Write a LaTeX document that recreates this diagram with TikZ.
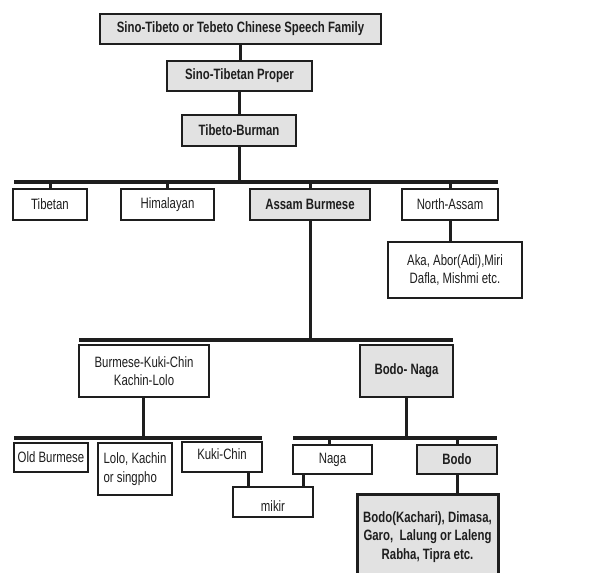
\documentclass[tikz,border=0pt]{standalone}
\usepackage{fontspec}
\setmainfont{Liberation Sans}[FakeStretch=0.76]
\definecolor{boxgrey}{RGB}{226,226,226}
\definecolor{inkgrey}{RGB}{30,30,30}
\begin{document}
\begin{tikzpicture}[x=1pt, y=-1pt,
    box/.style={draw=inkgrey, line width=1.3pt, fill=white, inner sep=1pt,
      minimum height=30pt, align=center, text=inkgrey,
      font=\fontsize{15}{18.5}\selectfont},
    greybox/.style={box, fill=boxgrey, font=\fontsize{15}{18.5}\selectfont\bfseries},
    bar/.style={draw=inkgrey, line width=4pt},
    link/.style={draw=inkgrey, line width=3pt}]
    \useasboundingbox (0,0) rectangle (604,572);

    % Define node positions
    \node[greybox, minimum width=281pt] (family) at (240.5, 29) {Sino-Tibeto or Tebeto Chinese Speech Family};
    \node[greybox, minimum width=145pt] (proper) at (239.5, 76) {Sino-Tibetan Proper};
    \node[greybox, minimum width=114pt, minimum height=31pt] (tibburman) at (239, 130.5) {Tibeto-Burman};

    \node[box, minimum width=74pt, minimum height=31pt] (tibetan) at (50, 204.5) {Tibetan};
    \node[box, minimum width=93pt, minimum height=31pt] (himalayan) at (167.5, 204.5) {Himalayan};
    \node[greybox, minimum width=120pt, minimum height=31pt] (assam) at (310, 204.5) {Assam Burmese};
    \node[box, minimum width=96pt, minimum height=31pt] (northassam) at (450, 204.5) {North-Assam};
    \node[box, minimum width=134pt, minimum height=56pt] (aka) at (455, 270) {Aka, Abor(Adi),Miri\\Dafla, Mishmi etc.};

    \node[box, minimum width=130pt, minimum height=52pt] (bkc) at (144, 371) {Burmese-Kuki-Chin\\Kachin-Lolo};
    \node[greybox, minimum width=93pt, minimum height=52pt] (bodonaga) at (406.5, 371) {Bodo- Naga};

    \node[box, minimum width=74pt, minimum height=29pt] (oldburmese) at (51, 457.5) {Old Burmese};
    \node[box, minimum width=74pt, minimum height=52pt, align=left] (lolo) at (135, 469) {Lolo, Kachin\\or singpho};
    \node[box, minimum width=80pt] (kukichin) at (222, 457) {\raisebox{-2pt}[0pt][0pt]{Kuki-Chin}};
    \node[box, minimum width=79pt, minimum height=29pt] (naga) at (332.5, 459.5) {Naga};
    \node[greybox, minimum width=80pt, minimum height=29pt] (bodo) at (457, 459.5) {Bodo};
    \node[box, minimum width=80pt] (mikir) at (273, 502) {\raisebox{-9pt}[0pt][0pt]{mikir}};
    \node[greybox, line width=3pt, minimum width=141pt, minimum height=86pt] (kachari) at (427.5, 537)
      {Bodo(Kachari), Dimasa,\\Garo,\ \ Lalung or Laleng\\Rabha, Tipra etc.};

    % Bars
    \coordinate (bartop) at (14, 182);
    \coordinate (barmid) at (79, 340);
    \coordinate (barleft) at (14, 438);
    \coordinate (barright) at (293, 438);
    \draw[bar] (bartop) -- (498, 182);
    \draw[bar] (barmid) -- (453, 340);
    \draw[bar] (barleft) -- (262, 438);
    \draw[bar] (barright) -- (497, 438);

    % Draw lines
    \draw[link] (family.south) -- (family.south |- proper.north);
    \draw[link] (proper.south) -- (proper.south |- tibburman.north);
    \draw[link] (tibburman.south) -- (tibburman.south |- bartop);
    \draw[link] (tibetan.north) -- (tibetan.north |- bartop);
    \draw[link] (himalayan.north) -- (himalayan.north |- bartop);
    \draw[link] (assam.north) -- (assam.north |- bartop);
    \draw[link] (northassam.north) -- (northassam.north |- bartop);
    \draw[link] (northassam.south) -- (northassam.south |- aka.north);
    \draw[link] (assam.south) -- (assam.south |- barmid);
    \draw[link] ([xshift=-1pt]bkc.south) -- ([xshift=-1pt]bkc.south |- barleft);
    \draw[link] (bodonaga.south) -- (bodonaga.south |- barright);
    \draw[link] ([xshift=-3pt]naga.north) -- ([xshift=-3pt]naga.north |- barright);
    \draw[link] (bodo.north) -- (bodo.north |- barright);
    \draw[link] ([xshift=26pt]kukichin.south) -- ([xshift=26pt]kukichin.south |- mikir.north);
    \draw[link] ([xshift=-29pt]naga.south) -- ([xshift=-29pt]naga.south |- mikir.north);
    \draw[link] (bodo.south) -- (bodo.south |- kachari.north);
\end{tikzpicture}
\end{document}
